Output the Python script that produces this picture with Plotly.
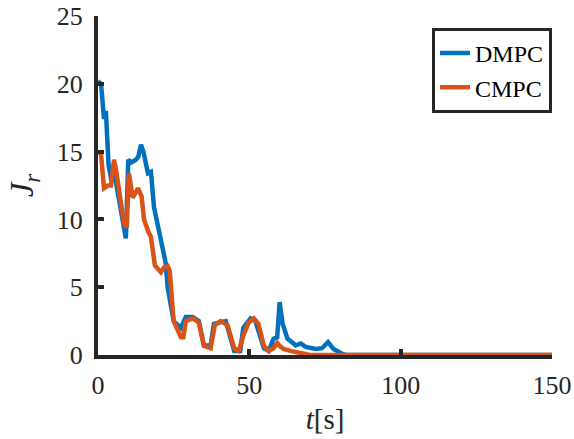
import plotly.graph_objects as go

# DMPC series (time [s], J_r)
t_dmpc = [0, 1, 2, 2.6, 3.5, 4.5, 5.5, 6.5, 8, 9.2, 10, 11, 12.5, 13.3, 14.2, 15,
          16.5, 17.5, 18.5, 20.8, 22.4, 23, 25, 27.4, 29, 31.3, 33.3, 35, 37.2,
          38.3, 40, 42.2, 45, 47, 48, 50.4, 52, 54.8, 56.4, 58, 59.2, 60, 61,
          62.6, 64.3, 65.3, 67, 68.6, 72, 74, 76, 77.8, 80.8, 82, 150]
j_dmpc = [20.2, 20.0, 17.4, 18.0, 14.0, 12.8, 13.3, 12.0, 10.0, 8.6, 14.4, 14.2,
          14.4, 14.6, 15.5, 15.0, 13.4, 13.5, 10.9, 8.2, 6.75, 5.0, 2.5, 2.0, 2.8,
          2.8, 2.5, 0.7, 0.7, 2.3, 2.4, 2.5, 0.3, 0.3, 2.0, 2.7, 2.5, 0.5, 0.3,
          1.2, 1.3, 3.9, 2.3, 1.2, 0.9, 0.7, 0.85, 0.6, 0.45, 0.5, 0.95, 0.45,
          0.07, 0.0, 0.0]

# CMPC series (time [s], J_r)
t_cmpc = [0, 1, 2, 3.3, 4.3, 5.3, 6, 7.6, 8.6, 9.5, 10.2, 11.5, 13.2, 14.4, 15.2,
          16.6, 17.5, 18.8, 20.8, 21.8, 23, 23.7, 25, 27.4, 28.2, 29, 31.3, 33.3,
          35, 37.2, 38.6, 40.5, 42.8, 45, 46.5, 48, 49.8, 51.5, 53, 54.8, 56.4,
          58, 59.2, 60, 61.3, 63.6, 67, 70, 150]
j_cmpc = [15.0, 14.8, 12.3, 12.5, 12.5, 14.4, 13.6, 11.2, 9.7, 9.4, 13.4, 11.6,
          12.3, 11.7, 10.0, 9.1, 8.7, 6.6, 6.1, 6.45, 6.55, 6.2, 2.5, 1.3, 1.3,
          2.5, 2.7, 2.4, 0.67, 0.5, 2.2, 2.5, 2.2, 0.5, 0.3, 1.4, 2.4, 2.7, 2.3,
          0.67, 0.3, 0.5, 0.9, 0.67, 0.45, 0.3, 0.15, 0.0, 0.0]

x_ticks = [0, 50, 100, 150]
y_ticks = [0, 5, 10, 15, 20, 25]

FONT = "Liberation Serif, Times New Roman, serif"
AX = "#262626"

fig = go.Figure()
fig.add_trace(go.Scatter(x=t_dmpc, y=j_dmpc, mode="lines", name="DMPC",
                         line=dict(color="#0072BD", width=4.5)))
fig.add_trace(go.Scatter(x=t_cmpc, y=j_cmpc, mode="lines", name="CMPC",
                         line=dict(color="#D95319", width=4.5)))

fig.update_layout(
    width=574, height=439,
    margin=dict(l=98, r=22, t=16, b=84),
    paper_bgcolor="white", plot_bgcolor="white",
    font=dict(family=FONT, size=25, color=AX),
    showlegend=True,
    legend=dict(x=1.0, y=0.965, xanchor="right", yanchor="top",
                bgcolor="white", bordercolor=AX, borderwidth=3,
                font=dict(family=FONT, size=24, color="black"),
                tracegroupgap=0, itemwidth=30,
                entrywidthmode="pixels", entrywidth=112),
    xaxis=dict(range=[0, 150], tickvals=x_ticks, ticks="inside", ticklen=6,
               tickwidth=4, tickcolor=AX, showline=True, linecolor=AX,
               linewidth=4, showgrid=False, zeroline=False, automargin=False,
               tickfont=dict(family=FONT, size=26, color=AX),
               ticklabelstandoff=4,
               title=dict(text="<i>t</i>[s]", font=dict(family=FONT, size=29, color=AX),
                          standoff=10)),
    yaxis=dict(range=[0, 25], tickvals=y_ticks, ticks="inside", ticklen=6,
               tickwidth=4, tickcolor=AX, showline=True, linecolor=AX,
               linewidth=4, showgrid=False, zeroline=False, automargin=False,
               tickfont=dict(family=FONT, size=26, color=AX),
               ticklabelstandoff=6,
               title=dict(text="<i>J</i><sub><i>r</i></sub>",
                          font=dict(family=FONT, size=33, color=AX),
                          standoff=14)),
)

fig.write_html("out.html")
